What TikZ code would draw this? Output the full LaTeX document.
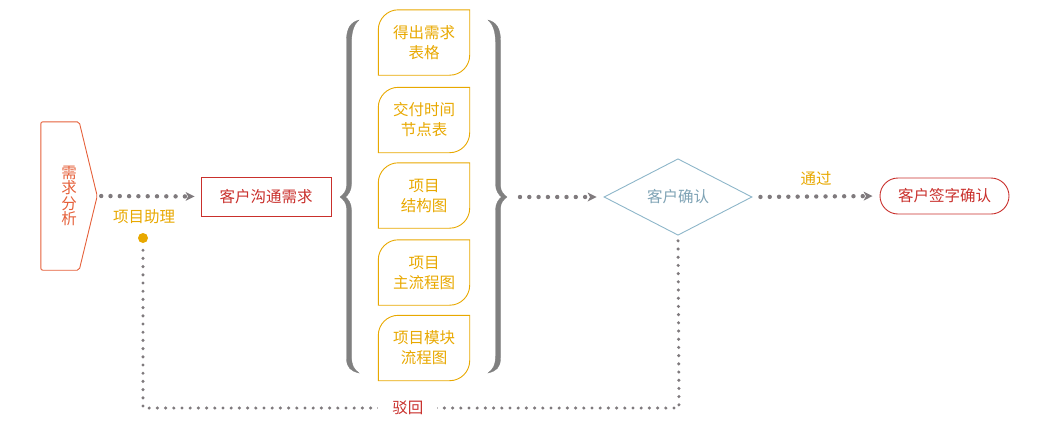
\documentclass[tikz,border=0pt]{standalone}
\usepackage{fontspec}
\setmainfont{Noto Sans CJK SC}
\usetikzlibrary{arrows.meta,shapes.geometric,calc}
\definecolor{cgray}{HTML}{7F7A7D}
\definecolor{cbrace}{HTML}{808080}
\definecolor{corange}{HTML}{E5603A}
\definecolor{cyellow}{HTML}{E8A800}
\definecolor{cred}{HTML}{C9302C}
\definecolor{cblue}{HTML}{8DB6C9}
\definecolor{cbluetxt}{HTML}{7FA3B5}
\tikzset{
  txt/.style={font=\fontsize{15.5}{20}\selectfont, inner sep=0pt},
  dotline/.style={draw=cgray, line width=4.4pt, line cap=round, dash pattern=on 0pt off 9.3pt},
  dotthin/.style={draw=cgray, line width=3.4pt, line cap=round, dash pattern=on 0pt off 8.2pt},
  tip/.style={-{Stealth[length=9pt,width=9pt,inset=2.5pt,line width=0pt,fill=cgray,color=cgray]}},
  ybox/.style={txt, text=cyellow, align=center, minimum width=91pt, minimum height=65pt},
  yline/.style={draw=cyellow, line width=0.9pt},
  bracestyle/.style={fill=cbrace, draw=cbrace, line width=0.3pt}
}
\newcommand\yshape[1]{\draw[yline] ([yshift=-20pt]#1.north west) .. controls ([yshift=-9pt]#1.north west) and ([xshift=9pt]#1.north west) .. ([xshift=20pt]#1.north west) -- (#1.north east) -- ([yshift=20pt]#1.south east) .. controls ([yshift=9pt]#1.south east) and ([xshift=-9pt]#1.south east) .. ([xshift=-20pt]#1.south east) -- (#1.south west) -- cycle;}
\begin{document}
\begin{tikzpicture}[x=1pt,y=-1pt]
\useasboundingbox (0,0) rectangle (1050,426);
% left pentagon node
\node[txt, text=corange, align=center, minimum width=56pt, minimum height=148pt,
      font=\fontsize{15.5}{15.5}\selectfont] (xq) at (69,196) {需\\求\\分\\析};
\draw[corange, line width=0.9pt, rounded corners=2pt]
  (xq.north west) -- ([xshift=-18pt]xq.north east) -- (xq.east) -- ([xshift=-18pt]xq.south east) -- (xq.south west) -- cycle;
\coordinate (xqtip) at (xq.east);
% box
\node[txt, text=cred, draw=cred, line width=0.9pt, minimum width=130pt, minimum height=39pt] (kh) at (266,196.5) {客户沟通需求};
\draw[dotline, tip, shorten <=4pt, shorten >=6pt] (xqtip) -- (kh.west);
% assistant label and dot
\node[txt, text=cyellow] (zl) at (144,217) {项目助理};
\node[circle, fill=cyellow, inner sep=0pt, minimum size=10pt] (dot) at (143,238) {};
% braces
\path[bracestyle] (359,20) .. controls (351,22) and (346.5,28) .. (346.5,40) -- (346.5,186)
  .. controls (346.5,191) and (343,195) .. (340,197) .. controls (343,199) and (346.5,203) .. (346.5,208)
  -- (346.5,358) .. controls (346.5,368) and (351,371) .. (359,373)
  .. controls (354,369) and (351.5,366) .. (351.5,356) -- (351.5,210)
  .. controls (351.5,203) and (348,199) .. (345.5,197) .. controls (348,195) and (351.5,191) .. (351.5,184)
  -- (351.5,42) .. controls (351.5,32) and (354,24) .. (359,20) -- cycle;
\path[bracestyle] (488,20) .. controls (496,22) and (500.5,28) .. (500.5,40) -- (500.5,186)
  .. controls (500.5,191) and (504,195) .. (507,197) .. controls (504,199) and (500.5,203) .. (500.5,208)
  -- (500.5,358) .. controls (500.5,368) and (496,371) .. (488,373)
  .. controls (493,369) and (495.5,366) .. (495.5,356) -- (495.5,210)
  .. controls (495.5,203) and (499,199) .. (501.5,197) .. controls (499,195) and (495.5,191) .. (495.5,184)
  -- (495.5,42) .. controls (495.5,32) and (493,24) .. (488,20) -- cycle;
\coordinate (rb) at (506,197);
% yellow items
\node[ybox] (y1) at (424,42.5) {得出需求\\表格};
\node[ybox] (y2) at (424,120) {交付时间\\节点表};
\node[ybox] (y3) at (424,195.5) {项目\\结构图};
\node[ybox] (y4) at (424,272.5) {项目\\主流程图};
\node[ybox] (y5) at (424,348) {项目模块\\流程图};
\yshape{y1}\yshape{y2}\yshape{y3}\yshape{y4}\yshape{y5}
% diamond
\node[txt, diamond, draw=cblue, line width=0.9pt, text=cbluetxt, minimum width=148pt, minimum height=76pt] (qr) at (678,197) {客户确认};
\draw[dotline, tip, shorten <=14pt, shorten >=7pt] (rb) -- (qr.west);
% final
\node[txt, text=cred, draw=cred, line width=0.9pt, rounded corners=18pt, minimum width=129pt, minimum height=36pt] (qz) at (944.5,196) {客户签字确认};
\draw[dotline, tip, shorten <=8pt, shorten >=7pt] (qr.east) -- node[txt, text=cyellow, above=9pt] (tg) {通过} (qz.west);
% return path
\coordinate (c1) at (143,408);
\coordinate (c2) at (679,408);
\draw[dotthin, shorten <=7pt, shorten >=3pt] (dot) -- (c1) -- node[pos=0.494, txt, fill=white, text=cred, inner xsep=14pt, inner ysep=2pt] (bh) {驳回} (c2) -- (qr.south);
\end{tikzpicture}
\end{document}
